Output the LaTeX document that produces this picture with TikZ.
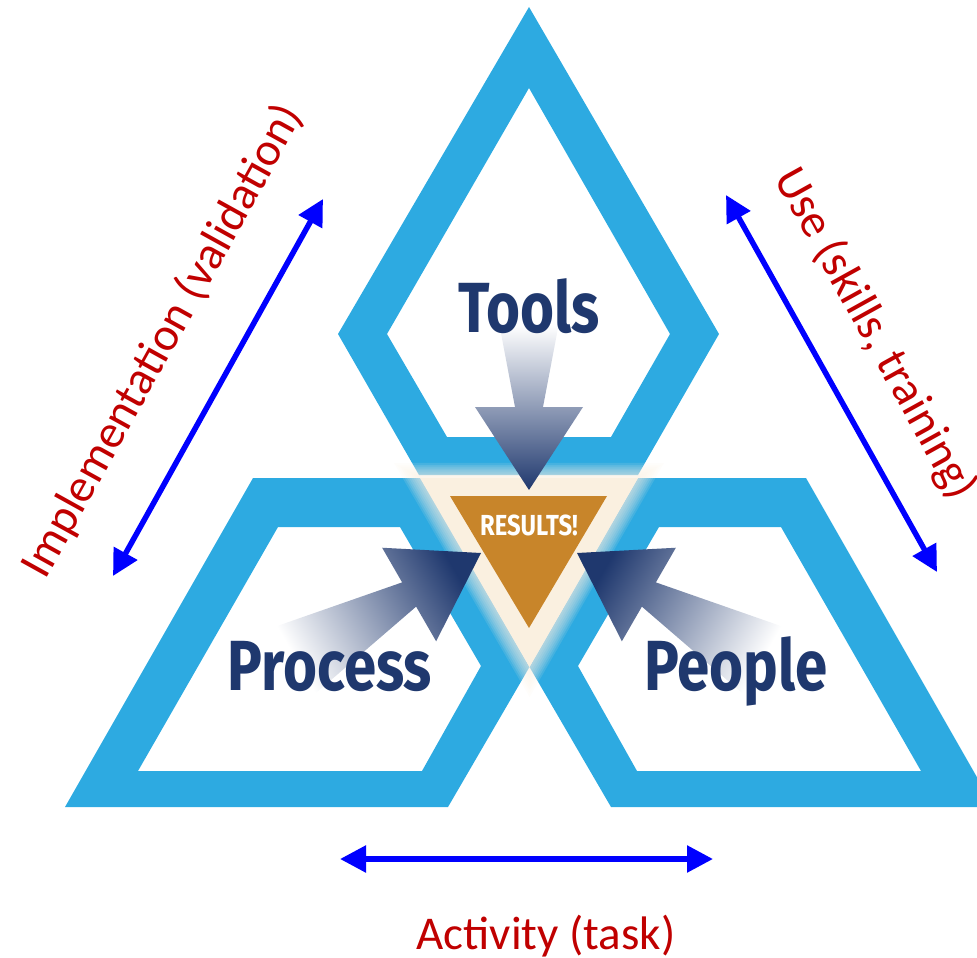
\documentclass[tikz,border=0pt]{standalone}
\usepackage{fontspec}
\usetikzlibrary{arrows.meta}
\newfontfamily\blockfont{Fira Sans}[FakeStretch=0.82]
\newfontfamily\notefont{Carlito}
\definecolor{BandBlue}{RGB}{45,170,225}
\definecolor{DeepNavy}{RGB}{31,56,110}
\definecolor{MidNavy}{RGB}{105,105,150}
\definecolor{ResultOrange}{RGB}{200,133,42}
\definecolor{GlowCream}{RGB}{250,240,224}
\definecolor{NoteRed}{RGB}{192,0,0}
\definecolor{LinkBlue}{RGB}{0,0,255}
% tapered push arrow: tip, direction, shading angle, shaft length
\newcommand{\pusharrow}[4]{\shade[top color=DeepNavy,middle color=MidNavy,bottom color=white,shading angle=#3,shift={#1},rotate=#2]
  (0,0)--(-83,54)--(-83,14)--({-83-#4},{14+0.19*#4})--({-83-#4},{-14-0.19*#4})--(-83,-14)--(-83,-54)--cycle;}

\begin{document}
\begin{tikzpicture}[x=1pt,y=-1pt,
  band/.style={fill=BandBlue,even odd rule},
  link/.style={LinkBlue,line width=5.5pt,{Triangle[length=26pt,width=26pt]}-{Triangle[length=26pt,width=26pt]}},
  block/.style={font=\blockfont\bfseries\fontsize{71}{80}\selectfont,text=DeepNavy,anchor=base,inner sep=0pt},
  note/.style={font=\notefont\fontsize{47}{56}\selectfont,text=NoteRed,inner sep=0pt}]
\useasboundingbox (0,0) rectangle (977,958);
% the three frames
\fill[band] (529,7)--(719,334)--(638,475)--(419,475)--(338,334)--cycle
  (529,88)--(670,334)--(611,437)--(447,437)--(387,334)--cycle;
\fill[band] (65,807)--(253,478)--(421,478)--(529.5,667)--(448,807)--cycle
  (138,771)--(278,527)--(400,527)--(481,666)--(422,771)--cycle;
\fill[band] (994,807)--(806,478)--(638,478)--(529.5,667)--(611,807)--cycle
  (921,771)--(781,527)--(659,527)--(578,666)--(637,771)--cycle;
% glow in the middle
\foreach \s in {1.24,1.21,...,1.02}
  \fill[GlowCream,opacity=0.12,scale around={\s:(529,541)}] (420,478)--(638,478)--(529.5,667)--cycle;
\fill[GlowCream] (420,478)--(638,478)--(529.5,667)--cycle;
\fill[ResultOrange] (450,496)--(607,496)--(529,628)--cycle;
% arrows into the middle
\pusharrow{(529,490)}{-90}{180}{82}
\pusharrow{(481,553)}{30}{-60}{131}
\pusharrow{(577,553)}{150}{60}{131}
\node[block] (tools) at (529,332) {Tools};
\node[block] (process) at (330,690) {Process};
\node[block] (people) at (736,690) {People};
\node[block,text=white,font=\blockfont\bfseries\fontsize{29}{32}\selectfont] (results) at (529,535) {RESULTS!};
% relations
\coordinate (implA) at (113,576); \coordinate (implB) at (323,199);
\coordinate (useA) at (726,195); \coordinate (useB) at (937,572);
\coordinate (actA) at (340,859); \coordinate (actB) at (713,859);
\draw[link] (implA)--(implB);
\draw[link] (useA)--(useB);
\draw[link] (actA)--(actB);
\node[note,rotate=61] (impl) at (163,341) {Implementation (validation)};
\node[note,rotate=-61] (use) at (875,334) {Use (skills, training)};
\node[note,anchor=base] (act) at (546,949) {Activity (task)};
\end{tikzpicture}
\end{document}
